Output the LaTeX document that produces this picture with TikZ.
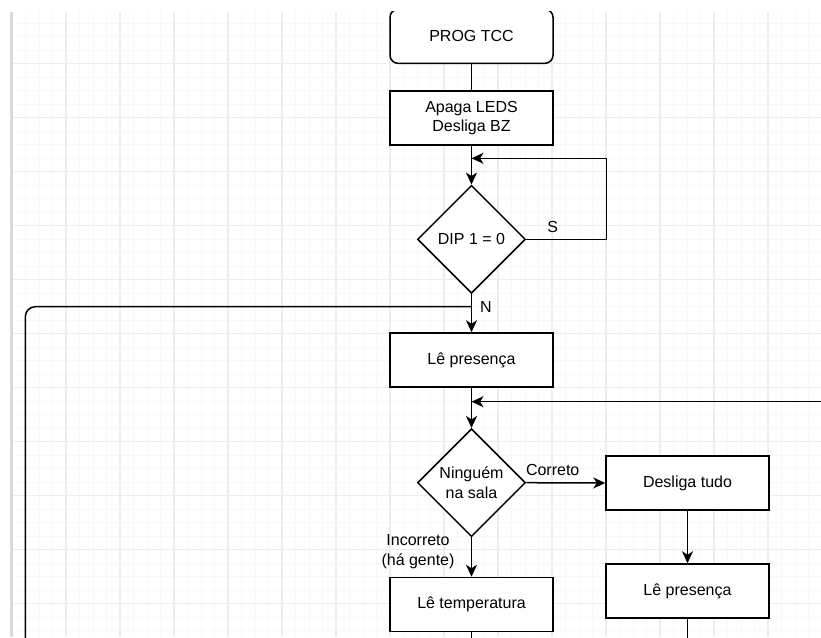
\documentclass[tikz,border=0pt]{standalone}
\usepackage{fontspec}
\setmainfont{Liberation Sans}
\usetikzlibrary{arrows.meta,shapes.geometric,calc}
\definecolor{gridminor}{HTML}{F8F8F8}
\definecolor{gridmajor}{HTML}{EDEDED}
\definecolor{gridbar}{HTML}{DADADA}
\tikzset{
  procbox/.style={draw=black, line width=1.5pt, fill=white, minimum width=163pt, minimum height=54pt, inner sep=0pt, align=center, font=\fontsize{16}{19.3}\selectfont},
  startbox/.style={procbox, rounded corners=8pt},
  decision/.style={draw=black, line width=1.5pt, fill=white, diamond, aspect=1, minimum width=108pt, minimum height=108pt, inner sep=0pt, align=center, font=\fontsize{16}{19.3}\selectfont},
  conn/.style={draw=black, line width=1.5pt},
  arr/.style={conn, -{Stealth[length=12pt,width=11pt,inset=3.5pt]}},
  lbl/.style={inner sep=0pt, align=center, font=\fontsize{16}{20}\selectfont}
}
\begin{document}
\begin{tikzpicture}[x=1pt,y=-1pt]
\useasboundingbox (0,0) rectangle (821,637);
\fill[white] (0,0) rectangle (821,637);
\begin{scope}
\clip (0,11.7) rectangle (821,637);
% grid
\foreach \i in {0,...,61} { \draw[gridminor, line width=0.9pt] ({12+13.5*\i},11.7) -- ({12+13.5*\i},637); }
\foreach \j in {0,...,47} { \draw[gridminor, line width=0.9pt] (12,{9.5+13.5*\j}) -- (821,{9.5+13.5*\j}); }
\foreach \i in {0,...,15} { \draw[gridmajor, line width=1.1pt] ({12+54*\i},11.7) -- ({12+54*\i},637); }
\foreach \j in {1,...,12} { \draw[gridmajor, line width=1.1pt] (12,{9.5+54*\j}) -- (821,{9.5+54*\j}); }
\fill[gridbar] (10,11.7) rectangle (12.5,637);

% nodes
\node[startbox] (prog) at (471.5,36.3) {PROG TCC};
\node[procbox] (apaga) at (471.5,118) {Apaga LEDS\\Desliga BZ};
\node[decision] (dip) at (471.5,239.3) {DIP 1 = 0};
\node[procbox] (le1) at (471.5,360) {Lê presença};
\node[decision] (ning) at (471.5,482.7) {Ninguém\\na sala};
\node[procbox] (desl) at (687.5,483) {Desliga tudo};
\node[procbox] (le2) at (687.5,591) {Lê presença};
\node[procbox] (temp) at (471.5,604.5) {Lê temperatura};

\coordinate (j1) at (471.5,158.3);
\coordinate (j2) at (471.5,306.7);
\coordinate (j3) at (471.5,401.7);
\coordinate (rin) at (830,401.7);
\coordinate (lb) at (25.3,660);
\coordinate (b2) at (687.5,660);
\coordinate (b1) at (471.5,660);

% connectors
\draw[conn] (prog.south) -- (apaga.north);
\draw[arr] (apaga.south) -- (dip.north);
\draw[arr] (dip.east) -- (606.7,239.3) |- (j1);
\draw[conn, rounded corners=10pt] (lb) -- (25.3,306.7) -- (j2);
\draw[arr] (dip.south) -- (le1.north);
\draw[arr] (le1.south) -- (ning.north);
\draw[arr] (rin) -- (j3);
\draw[arr] (ning.east) -- (desl.west);
\draw[arr] (ning.south) -- (temp.north);
\draw[arr] (desl.south) -- (le2.north);
\draw[conn] (le2.south) -- (b2);
\draw[conn] (temp.south) -- (b1);

% labels
\node[lbl] (ls) at (552.7,227) {S};
\node[lbl] (ln) at (486,307) {N};
\node[lbl] (lc) at (552.7,470) {Correto};
\node[lbl] (li) at (418,551.7) {Incorreto\\(há gente)};
\end{scope}
\end{tikzpicture}
\end{document}
